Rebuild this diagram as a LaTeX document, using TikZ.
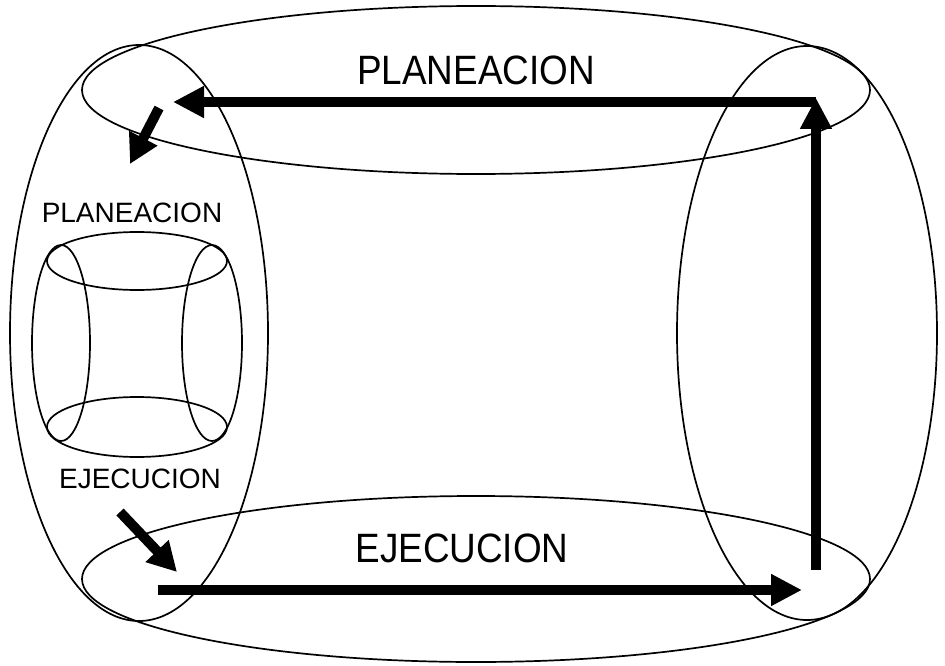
\documentclass[tikz,border=0pt]{standalone}
\usepackage{fontspec}
\usepackage{graphicx}
\setmainfont{Liberation Sans}
\usetikzlibrary{arrows.meta}
\begin{document}
\begin{tikzpicture}[x=1pt,y=-1pt,
  outline/.style={draw=black,line width=1.7pt},
  bigbar/.style={line width=10.5pt,-{Triangle[length=31pt,width=30pt]}},
  smallbar/.style={line width=10pt,-{Triangle[length=29pt,width=30pt]}},
  bigtext/.style={inner sep=0pt,font=\fontsize{41}{41}\selectfont},
  smalltext/.style={inner sep=0pt,font=\fontsize{28}{28}\selectfont}]
\useasboundingbox (0,0) rectangle (945,666);
% big torus-like outline
\draw[outline] (476,90) ellipse [x radius=394pt,y radius=84pt];
\draw[outline] (476,579) ellipse [x radius=394pt,y radius=83pt];
\draw[outline] (139,333) ellipse [x radius=129pt,y radius=288pt];
\draw[outline] (807,333) ellipse [x radius=130pt,y radius=287pt];
% small inner figure
\draw[outline] (137,261) ellipse [x radius=90pt,y radius=29pt];
\draw[outline] (137,427) ellipse [x radius=90pt,y radius=30pt];
\draw[outline] (61,343) ellipse [x radius=29pt,y radius=98pt];
\draw[outline] (212,343) ellipse [x radius=30pt,y radius=98pt];
% labels
\node[bigtext] (plan) at (476,70) {\scalebox{0.9}[1]{PLANEACION}};
\node[bigtext] (ejec) at (462,548) {\scalebox{0.9}[1]{EJECUCION}};
\node[smalltext] (plans) at (132,213) {PLANEACION};
\node[smalltext] (ejecs) at (140,479) {EJECUCION};
% arrow coordinates
\coordinate (tr) at (816,102);
\coordinate (tl) at (173,102);
\coordinate (br) at (816,570);
\coordinate (bl) at (158,590);
\coordinate (bt) at (802,590);
\coordinate (trtip) at (816,98);
\coordinate (d1s) at (159,108);
\coordinate (d1e) at (130,164);
\coordinate (d2s) at (120,512);
\coordinate (d2e) at (177,572);
% arrows
\draw[bigbar] (tr) -- (tl);
\draw[bigbar] (br) -- (trtip);
\draw[bigbar] (bl) -- (bt);
\draw[smallbar] (d1s) -- (d1e);
\draw[smallbar] (d2s) -- (d2e);
\end{tikzpicture}
\end{document}
